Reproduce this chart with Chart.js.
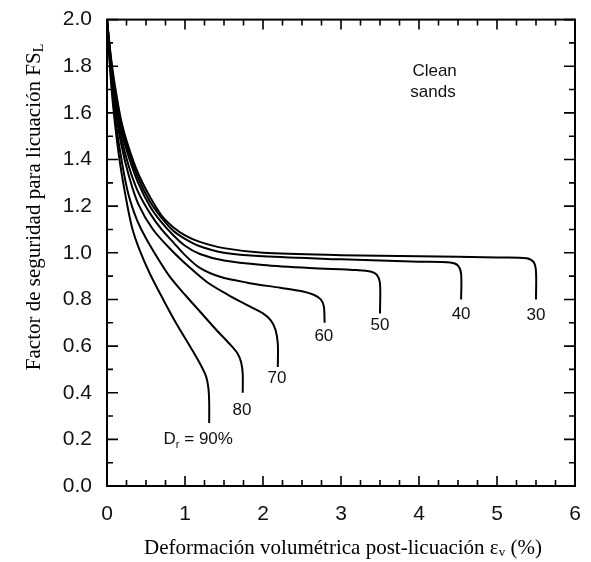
<!DOCTYPE html>
<html>
<head>
<meta charset="utf-8">
<script src="https://cdn.jsdelivr.net/npm/chart.js@4/dist/chart.umd.min.js"></script>
<style>
  body { margin: 0; background: #fff; }
</style>
</head>
<body>
<canvas id="fsChart" width="591" height="562"></canvas>
<script>
const ctx = document.getElementById('fsChart').getContext('2d');

// curves: [strain %, FS_L]
const dr30 = [[0, 2.0], [0.05, 1.84], [0.1, 1.72], [0.18, 1.57], [0.28, 1.45], [0.4, 1.34], [0.55, 1.24], [0.7, 1.16], [0.85, 1.11], [1.0, 1.075], [1.19, 1.047], [1.5, 1.02], [2.0, 1.0], [3.0, 0.99], [4.0, 0.985], [5.0, 0.98], [5.38, 0.977], [5.47, 0.96], [5.5, 0.92], [5.5, 0.80]];
const dr40 = [[0, 2.0], [0.05, 1.83], [0.1, 1.70], [0.18, 1.55], [0.28, 1.43], [0.4, 1.32], [0.55, 1.22], [0.7, 1.15], [0.85, 1.095], [1.0, 1.06], [1.19, 1.028], [1.5, 1.0], [2.0, 0.985], [3.0, 0.972], [4.0, 0.962], [4.4, 0.958], [4.5, 0.945], [4.54, 0.91], [4.54, 0.80]];
const dr50 = [[0, 2.0], [0.05, 1.82], [0.1, 1.68], [0.18, 1.53], [0.28, 1.41], [0.4, 1.30], [0.55, 1.20], [0.7, 1.13], [0.85, 1.075], [1.0, 1.03], [1.19, 0.995], [1.5, 0.967], [2.0, 0.948], [2.6, 0.935], [3.2, 0.926], [3.38, 0.92], [3.46, 0.905], [3.5, 0.87], [3.5, 0.74]];
const dr60 = [[0, 2.0], [0.05, 1.80], [0.1, 1.66], [0.18, 1.50], [0.28, 1.37], [0.4, 1.26], [0.55, 1.17], [0.7, 1.10], [0.85, 1.045], [1.0, 0.99], [1.19, 0.935], [1.45, 0.897], [1.8, 0.872], [2.22, 0.85], [2.5, 0.835], [2.65, 0.82], [2.74, 0.80], [2.78, 0.77], [2.79, 0.70]];
const dr70 = [[0, 2.0], [0.05, 1.78], [0.1, 1.63], [0.18, 1.47], [0.28, 1.33], [0.4, 1.21], [0.59, 1.10], [0.83, 1.01], [1.05, 0.94], [1.28, 0.875], [1.55, 0.82], [1.83, 0.77], [2.0, 0.74], [2.1, 0.71], [2.16, 0.67], [2.19, 0.61], [2.19, 0.51]];
const dr80 = [[0, 2.0], [0.05, 1.76], [0.1, 1.59], [0.17, 1.43], [0.26, 1.27], [0.35, 1.17], [0.44, 1.10], [0.59, 1.01], [0.8, 0.90], [1.0, 0.82], [1.2, 0.745], [1.4, 0.67], [1.57, 0.61], [1.67, 0.57], [1.72, 0.53], [1.74, 0.48], [1.74, 0.40]];
const dr90 = [[0, 2.0], [0.05, 1.74], [0.1, 1.56], [0.16, 1.40], [0.24, 1.24], [0.32, 1.11], [0.42, 1.01], [0.55, 0.91], [0.72, 0.80], [0.9, 0.69], [1.08, 0.59], [1.2, 0.52], [1.27, 0.47], [1.30, 0.42], [1.31, 0.36], [1.31, 0.27]];

const curves = [dr30, dr40, dr50, dr60, dr70, dr80, dr90];
const curveNames = ['30', '40', '50', '60', '70', '80', '90'];

// curve labels: [x, y, text, subscript, rest]
const curveLabels = [
    [5.5, 0.73, '30'],
    [4.54, 0.735, '40'],
    [3.5, 0.69, '50'],
    [2.78, 0.64, '60'],
    [2.18, 0.46, '70'],
    [1.73, 0.325, '80'],
    [1.17, 0.20, 'D', 'r', ' = 90%']
];

const xTicks = [0, 1, 2, 3, 4, 5, 6];
const yTicks = [0, 0.2, 0.4, 0.6, 0.8, 1.0, 1.2, 1.4, 1.6, 1.8, 2.0];

const frame = {
    id: 'frame',
    afterDraw(chart) {
        const c = chart.ctx;
        const a = chart.chartArea;
        const xs = chart.scales.x;
        const ys = chart.scales.y;
        c.save();
        c.strokeStyle = '#000';
        c.lineWidth = 2;
        c.strokeRect(a.left, a.top, a.right - a.left, a.bottom - a.top);
        c.lineWidth = 1.6;
        c.beginPath();
        for (let i = 0; i <= 24; i++) {
            const v = i * 0.25;
            const px = xs.getPixelForValue(v);
            const len = i % 4 === 0 ? 10 : 6;
            c.moveTo(px, a.bottom); c.lineTo(px, a.bottom - len);
            c.moveTo(px, a.top); c.lineTo(px, a.top + len);
        }
        for (let i = 0; i <= 20; i++) {
            const v = i * 0.1;
            const py = ys.getPixelForValue(v);
            const len = i % 2 === 0 ? 11 : 6;
            c.moveTo(a.left, py); c.lineTo(a.left + len, py);
            c.moveTo(a.right, py); c.lineTo(a.right - len, py);
        }
        c.stroke();

        // curve labels
        c.fillStyle = '#111';
        c.font = '17px "Liberation Sans", Arial, sans-serif';
        c.textBaseline = 'middle';
        curveLabels.forEach(l => {
            const px = xs.getPixelForValue(l[0]);
            const py = ys.getPixelForValue(l[1]);
            if (l.length === 3) {
                c.textAlign = 'center';
                c.fillText(l[2], px, py);
            } else {
                c.textAlign = 'left';
                c.font = '17px "Liberation Sans", Arial, sans-serif';
                const w1 = c.measureText(l[2]).width;
                c.font = '11px "Liberation Sans", Arial, sans-serif';
                const w2 = c.measureText(l[3]).width;
                c.font = '17px "Liberation Sans", Arial, sans-serif';
                const w3 = c.measureText(l[4]).width;
                let x0 = px - (w1 + w2 + w3) / 2;
                c.fillText(l[2], x0, py);
                c.font = '11px "Liberation Sans", Arial, sans-serif';
                c.fillText(l[3], x0 + w1, py + 6);
                c.font = '17px "Liberation Sans", Arial, sans-serif';
                c.fillText(l[4], x0 + w1 + w2, py);
            }
        });
        c.textAlign = 'center';
        c.fillText('Clean', xs.getPixelForValue(4.2), ys.getPixelForValue(1.78));
        c.fillText('sands', xs.getPixelForValue(4.18), ys.getPixelForValue(1.69));

        // axis titles
        c.fillStyle = '#000';
        const serif = '"Liberation Serif", "Times New Roman", serif';
        c.font = '21px ' + serif;
        const xt1 = 'Deformación volumétrica post-licuación ε';
        const xt2 = 'v';
        const xt3 = ' (%)';
        const w1 = c.measureText(xt1).width;
        c.font = '13px ' + serif;
        const w2 = c.measureText(xt2).width;
        c.font = '21px ' + serif;
        const w3 = c.measureText(xt3).width;
        let x0 = 343 - (w1 + w2 + w3) / 2;
        c.textAlign = 'left';
        c.textBaseline = 'alphabetic';
        c.fillText(xt1, x0, 554);
        c.font = '13px ' + serif;
        c.fillText(xt2, x0 + w1, 556);
        c.font = '21px ' + serif;
        c.fillText(xt3, x0 + w1 + w2, 554);

        c.translate(40, 207);
        c.rotate(-Math.PI / 2);
        const yt1 = 'Factor de seguridad para licuación FS';
        const yt2 = 'L';
        c.font = '21px ' + serif;
        const v1 = c.measureText(yt1).width;
        c.font = '14px ' + serif;
        const v2 = c.measureText(yt2).width;
        const y0 = -(v1 + v2) / 2;
        c.font = '21px ' + serif;
        c.fillText(yt1, y0, 0);
        c.font = '14px ' + serif;
        c.fillText(yt2, y0 + v1, 3);
        c.restore();
    }
};

const config = {
    type: 'scatter',
    data: {
        datasets: curves.map((pts, i) => ({
            label: curveNames[i],
            data: pts.map(p => ({x: p[0], y: p[1]})),
            showLine: true,
            borderColor: '#000',
            borderWidth: 2,
            pointRadius: 0,
            tension: 0.3,
            fill: false
        }))
    },
    options: {
        responsive: false,
        animation: false,
        layout: {
            padding: {top: 19, right: 16, left: 0, bottom: 0}
        },
        plugins: {
            legend: {display: false},
            tooltip: {enabled: false}
        },
        scales: {
            x: {
                type: 'linear',
                min: 0,
                max: 6,
                grid: {display: false},
                border: {display: false},
                afterBuildTicks: s => { s.ticks = xTicks.map(v => ({value: v})); },
                afterFit: s => { s.height = 76; },
                ticks: {
                    color: '#111',
                    padding: 8,
                    font: {family: '"Liberation Sans", Arial, sans-serif', size: 21},
                    callback: v => String(v)
                }
            },
            y: {
                type: 'linear',
                min: 0,
                max: 2,
                grid: {display: false},
                border: {display: false},
                afterBuildTicks: s => { s.ticks = yTicks.map(v => ({value: v})); },
                afterFit: s => { s.width = 107; },
                ticks: {
                    color: '#111',
                    padding: 7,
                    font: {family: '"Liberation Sans", Arial, sans-serif', size: 21},
                    callback: v => Number(v).toFixed(1)
                }
            }
        }
    },
    plugins: [frame]
};

const myChart = new Chart(ctx, config);
</script>
</body>
</html>
